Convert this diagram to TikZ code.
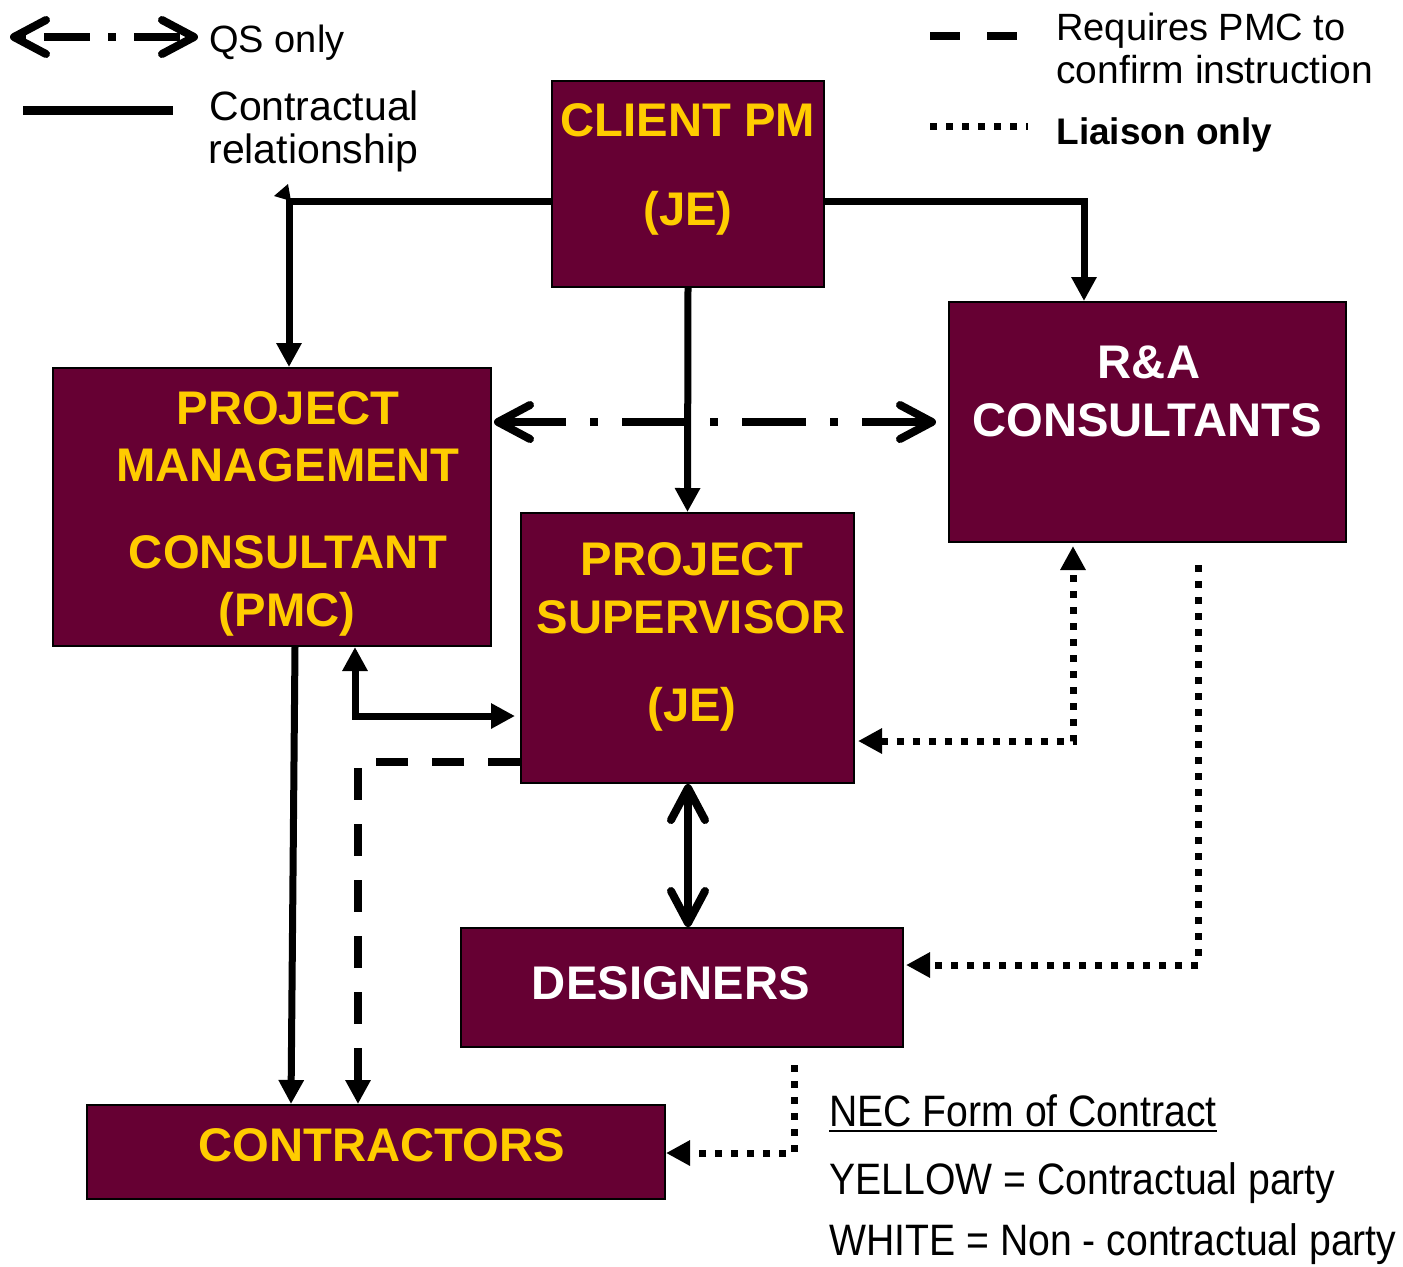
\documentclass[tikz,border=0pt]{standalone}
\usepackage{fontspec}
\setmainfont{Liberation Sans}
\newfontfamily\narrowfont[FakeStretch=0.89]{Liberation Sans}
\usetikzlibrary{arrows.meta}
\definecolor{boxfill}{HTML}{660033}
\definecolor{gold}{HTML}{FFCC00}
\begin{document}
\begin{tikzpicture}[x=0.5pt,y=-0.5pt,
  box/.style={draw=black, line width=1pt, fill=boxfill, inner sep=0pt},
  ytext/.style={text=gold, font=\fontsize{23.6}{28}\selectfont\bfseries, anchor=base, inner sep=0pt},
  wtext/.style={ytext, text=white},
  tri/.tip={Triangle[length=12pt,width=12pt]},
  chev/.tip={Straight Barb[length=16pt,width=17pt,line width=4pt,line cap=round,line join=round]},
  conn/.style={line width=3.5pt},
  qsline/.style={line width=4pt, dash pattern=on 32pt off 12pt on 4pt off 12pt},
  qslegend/.style={line width=4pt, dash pattern=on 4pt off 9pt on 23pt off 9pt},
  pmcline/.style={line width=3.8pt, dash pattern=on 16pt off 12pt},
  pmclegend/.style={line width=4pt, dash pattern=on 15pt off 13.5pt},
  liaison/.style={line width=3.5pt, dash pattern=on 3.5pt off 4.5pt},
  legend/.style={anchor=base west, inner sep=0pt, font=\fontsize{19}{23}\selectfont},
  necstyle/.style={anchor=base west, inner sep=0pt, font=\narrowfont\fontsize{22}{26}\selectfont}
]
\path[use as bounding box] (0,0) rectangle (1403,1266);

% boxes
\node[box, minimum width=136pt, minimum height=103pt] (cpm) at (688,184) {};
\node[box, minimum width=198.5pt, minimum height=120pt] (ra) at (1147.5,422) {};
\node[box, minimum width=219pt, minimum height=139pt] (pmc) at (272,507) {};
\node[box, minimum width=166.5pt, minimum height=135pt] (ps) at (687.5,648) {};
\node[box, minimum width=221pt, minimum height=59.5pt] (des) at (682,987.5) {};
\node[box, minimum width=289pt, minimum height=47pt] (contr) at (376,1152) {};

% box texts
\node[ytext] (t1) at (688,136) {CLIENT PM};
\node[ytext] (t2) at (688,225) {(JE)};
\node[wtext] (t3) at (1149,378) {R\&A};
\node[wtext] (t4) at (1147,436) {CONSULTANTS};
\node[ytext] (t5) at (288,424) {PROJECT};
\node[ytext] (t6) at (288,481) {MANAGEMENT};
\node[ytext] (t7) at (288,568) {CONSULTANT};
\node[ytext] (t8) at (287,626) {(PMC)};
\node[ytext] (t9) at (692,575) {PROJECT};
\node[ytext] (t10) at (691,633) {SUPERVISOR};
\node[ytext] (t11) at (692,721) {(JE)};
\node[wtext] (t12) at (671,999) {DESIGNERS};
\node[ytext] (t13) at (381.5,1161) {CONTRACTORS};

% connectors
\draw[conn, -{tri}] (cpm.west |- 0,201) -| (pmc.north -| 289,0);
\fill (274,196) -- (288,184) -- (291,201) -- cycle;
\draw[conn, -{tri}] (cpm.east |- 0,201) -| (ra.north -| 1084,0);
\draw[conn, -{tri}] (cpm.south) -- (ps.north);
\draw[qsline, {chev}-{chev}, shorten >=6pt, shorten <=1pt] (pmc.east |- 0,422) -- (ra.west |- 0,422);
\draw[conn, -{tri}] (pmc.south -| 295,0) -- (contr.north -| 291,0);
\draw[conn, {tri}-{tri}, shorten >=2.5pt] (pmc.south -| 355,0) |- (ps.west |- 0,716);
\draw[pmcline, -{tri}] (ps.west |- 0,762) -| (contr.north -| 358,0);
\draw[liaison, {tri}-{tri}, shorten <=1.5pt, shorten >=1.5pt] (ps.east |- 0,741) -| (ra.south -| 1073,0);
\coordinate (d1) at (1198,565);
\draw[liaison, -{tri}, shorten >=1pt] (d1) |- (des.east |- 0,965);
\draw[conn, line width=4pt, {chev}-{chev}] (ps.south -| 688,0) -- (des.north -| 688,0);
\coordinate (d2) at (794,1065);
\draw[liaison, -{tri}] (d2) |- (contr.east |- 0,1153);

% legend
\coordinate (lq1) at (10,37);
\coordinate (lq2) at (198,37);
\draw[qslegend, {chev}-{chev}] (lq1) -- (lq2);
\node[legend] (lqs) at (209,52) {QS only};
\coordinate (lc1) at (23,110);
\coordinate (lc2) at (173,110);
\draw[line width=4.5pt] (lc1) -- (lc2);
\node[legend, font=\fontsize{20.5}{24}\selectfont] (lct1) at (209,120) {Contractual};
\node[legend, font=\fontsize{20.5}{24}\selectfont] (lct2) at (208,163) {relationship};
\coordinate (ld1) at (930,36);
\coordinate (ld2) at (1018,36);
\draw[pmclegend] (ld1) -- (ld2);
\node[legend] (lr1) at (1056,40) {Requires PMC to};
\node[legend, font=\fontsize{19.5}{23}\selectfont] (lr2) at (1056,83) {confirm instruction};
\coordinate (ll1) at (930,126);
\coordinate (ll2) at (1028,126);
\draw[liaison] (ll1) -- (ll2);
\node[legend, font=\fontsize{18.5}{22}\selectfont\bfseries] (ll) at (1056,144) {Liaison only};

% NEC notes
\node[necstyle] (nec) at (829,1126) {NEC Form of Contract};
\draw[line width=1pt] ([yshift=-2.5pt]nec.base west) -- ([yshift=-2.5pt]nec.base east);
\node[necstyle] (yel) at (829,1194) {YELLOW = Contractual party};
\node[necstyle] (whi) at (829,1255) {WHITE = Non - contractual party};
\end{tikzpicture}
\end{document}
